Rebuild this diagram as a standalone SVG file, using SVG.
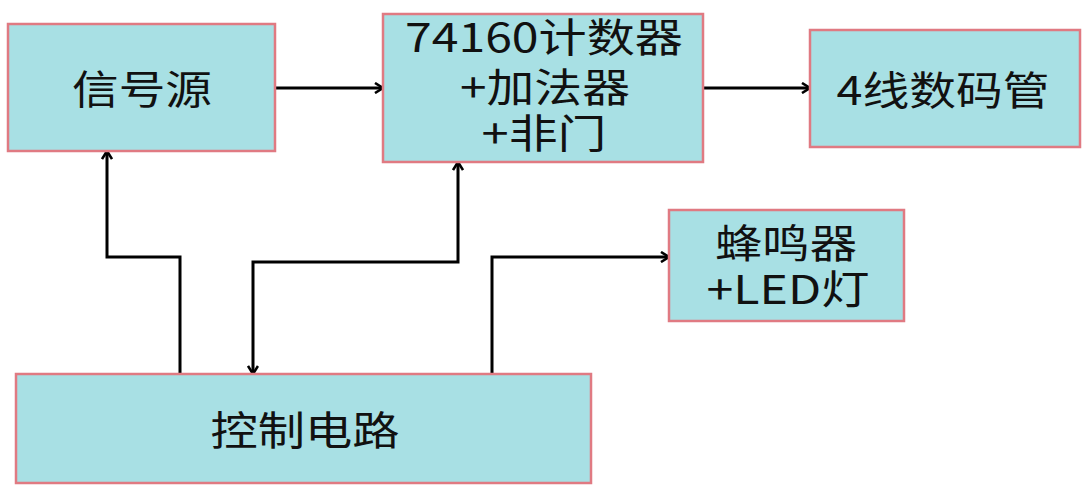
<svg xmlns="http://www.w3.org/2000/svg" width="1092" height="492" viewBox="0 0 1092 492">
<defs>
<marker id="arr" viewBox="0 0 12 12" refX="10" refY="6" markerWidth="12" markerHeight="12" markerUnits="userSpaceOnUse" orient="auto-start-reverse">
<path d="M2,1 L10,6 L2,11" fill="none" stroke="#000" stroke-width="2.6"/>
</marker>
<style>
.box{fill:#A8E0E4;stroke:#E07A82;stroke-width:2.5}
.t{font-family:"Noto Sans CJK SC","Noto Sans",sans-serif;font-size:40px;fill:#111;text-anchor:middle;dominant-baseline:central}
.c{fill:none;stroke:#000;stroke-width:3}
</style>
</defs>
<rect width="1092" height="492" fill="#fff"/>
<g id="connectors">
<path class="c" d="M276,88 H383" marker-end="url(#arr)"/>
<path class="c" d="M703,88 H810" marker-end="url(#arr)"/>
<path class="c" d="M180,374 V257 H107 V151" marker-end="url(#arr)"/>
<path class="c" d="M253,374 V262 H458 V162" marker-start="url(#arr)" marker-end="url(#arr)"/>
<path class="c" d="M492,374 V257 H669" marker-end="url(#arr)"/>
</g>
<g id="signal">
<rect class="box" x="8" y="24" width="267" height="127"/>
<text class="t" x="142" y="87" textLength="140" lengthAdjust="spacingAndGlyphs">信号源</text>
</g>
<g id="counter">
<rect class="box" x="383" y="14" width="320" height="148"/>
<text class="t" x="544" y="35" textLength="278" lengthAdjust="spacingAndGlyphs">74160计数器</text>
<text class="t" x="545" y="85" textLength="170" lengthAdjust="spacingAndGlyphs">+加法器</text>
<text class="t" x="544" y="131" textLength="125" lengthAdjust="spacingAndGlyphs">+非门</text>
</g>
<g id="display">
<rect class="box" x="810" y="30" width="270" height="117"/>
<text class="t" x="943" y="88" textLength="213" lengthAdjust="spacingAndGlyphs">4线数码管</text>
</g>
<g id="buzzer">
<rect class="box" x="669" y="210" width="235" height="111"/>
<text class="t" x="786" y="241" textLength="142" lengthAdjust="spacingAndGlyphs">蜂鸣器</text>
<text class="t" x="788" y="287" textLength="163" lengthAdjust="spacingAndGlyphs">+LED灯</text>
</g>
<g id="control">
<rect class="box" x="16" y="374" width="575" height="109"/>
<text class="t" x="305" y="428" textLength="189" lengthAdjust="spacingAndGlyphs">控制电路</text>
</g>
</svg>
